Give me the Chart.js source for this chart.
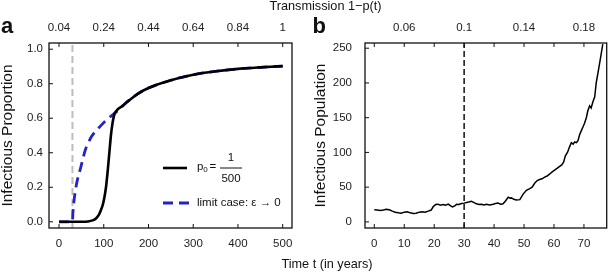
<!DOCTYPE html>
<html>
<head>
<meta charset="utf-8">
<script src="https://cdn.jsdelivr.net/npm/chart.js@4"></script>
<style>
  html, body { margin: 0; padding: 0; background: #fff; }
  #wrap { position: relative; width: 608px; height: 272px; overflow: hidden; font-family: 'Liberation Sans', Arial, sans-serif; color: #111; }
  canvas { position: absolute; top: 0; }
  .lbl { position: absolute; white-space: nowrap; line-height: 1; }
  .panel { font-weight: bold; font-size: 22px; }
  .axt { font-size: 12.7px; width: 200px; text-align: center; }
</style>
</head>
<body>
<div id="wrap">
  <canvas id="chart-a" width="304" height="272" style="left:0"></canvas>
  <canvas id="chart-b" width="304" height="272" style="left:304px"></canvas>
  <div class="lbl panel" style="left:1px; top:14.5px">a</div>
  <div class="lbl panel" style="left:312.5px; top:14.5px">b</div>
  <div class="lbl axt" style="left:225.5px; top:0px">Transmission 1−p(t)</div>
  <div class="lbl axt" style="left:227px; top:257.5px">Time t (in years)</div>
</div>
<script>
// panel a: infectious proportion vs time
const T_SOLID = [0, 50, 65, 75, 82, 89, 94, 98, 102, 105, 109, 112.5, 116, 119.5, 122, 125, 130, 140, 150, 160, 175, 200, 250, 300, 350, 400, 450, 500];
const P_SOLID = [0, 0, 0.002, 0.008, 0.018, 0.04, 0.07, 0.1, 0.15, 0.2, 0.3, 0.4, 0.5, 0.57, 0.605, 0.63, 0.648, 0.668, 0.69, 0.71, 0.74, 0.775, 0.82, 0.852, 0.872, 0.886, 0.895, 0.902];
const T_LIMIT = [0, 30, 31, 33, 36, 40, 47, 53, 58, 65, 73, 82, 92, 103, 114, 128, 140, 150, 160, 175, 200, 250, 300, 350, 400, 450, 500];
const P_LIMIT = [0, 0, 0.05, 0.11, 0.17, 0.23, 0.3, 0.36, 0.41, 0.455, 0.495, 0.525, 0.553, 0.582, 0.608, 0.637, 0.665, 0.69, 0.71, 0.74, 0.775, 0.82, 0.852, 0.872, 0.886, 0.895, 0.902];
const X_TICKS_A = [0, 100, 200, 300, 400, 500];
const TOP_LABELS_A = ['0.04', '0.24', '0.44', '0.64', '0.84', '1'];
const Y_TICKS_A = [0, 0.2, 0.4, 0.6, 0.8, 1.0];

// panel b: one stochastic run of the infectious population
const T_RUN = [0, 1, 2, 3, 4, 5, 6, 7, 8, 9, 10, 11, 12, 13, 14, 15, 16, 17, 18, 19, 19.7, 20.5, 21.3, 22, 23, 23.8, 24.7, 25.5, 26.1, 27, 27.5, 28.3, 29.1, 30, 30.8, 31.5, 32.4, 33.2, 34.1, 35, 35.8, 36.6, 37.4, 38.5, 39.7, 40.5, 41.3, 42.2, 43, 43.8, 44.7, 45.3, 45.8, 46.6, 47.4, 48.6, 49.7, 50.8, 51.9, 52.7, 53.6, 54.4, 55.2, 56, 56.9, 57.7, 58.6, 59.4, 60.2, 61, 61.9, 62.6, 63.2, 63.8, 64.5, 65.2, 65.8, 66.4, 66.9, 67.5, 68, 68.6, 69.1, 69.7, 70.2, 70.8, 71.3, 71.9, 72.4, 73, 73.6, 74.1, 74.7, 75.3, 75.8, 76.3];
const I_RUN = [17.5, 17, 16.5, 17, 18, 17.5, 15.5, 14, 13, 12.5, 14, 14.5, 13, 12, 12.5, 14, 14.5, 14, 15.5, 17, 22, 25, 25.5, 24, 25, 24, 25.5, 23, 21.5, 23.5, 25.5, 25, 26.5, 27, 28, 28.5, 29.5, 28, 26, 25, 25.5, 24.5, 25.5, 24.5, 25.5, 26.5, 27, 25.5, 26, 30, 35.5, 34, 34.5, 32.5, 31.5, 32, 40, 45.5, 48, 50, 56, 59.5, 61, 62, 64.5, 66, 69, 72, 74.5, 77, 80, 82, 86, 95, 100, 108, 114, 112, 115, 114, 117, 126, 131, 137, 142, 150, 160, 167, 164, 173, 180, 200, 215, 230, 243, 256];
const X_TICKS_B = [0, 10, 20, 30, 40, 50, 60, 70];
const TOP_LABELS_B = ['', '0.06', '', '0.1', '', '0.14', '', '0.18'];
const Y_TICKS_B = [0, 50, 100, 150, 200, 250];

const CUTOFF = 30;
const FONT = "'Liberation Sans', Arial, sans-serif";
const BLUE = '#2323c8';

function pts(xs, ys) { return xs.map((x, i) => ({ x, y: ys[i] })); }
function fixTicks(list) { return s => { s.ticks = list.map(v => ({ value: v })); }; }

// box, inward tick marks and the dashed cut-off line
const framePlugin = {
  id: 'frame',
  beforeDatasetsDraw(chart, args, o) {
    const { ctx, chartArea: a } = chart;
    const x = chart.scales.x.getPixelForValue(o.cut);
    ctx.save();
    ctx.strokeStyle = o.cutColor; ctx.lineWidth = o.cutWidth; ctx.setLineDash(o.cutDash);
    ctx.beginPath(); ctx.moveTo(x, a.bottom); ctx.lineTo(x, a.top); ctx.stroke();
    ctx.restore();
  },
  afterDatasetsDraw(chart) {
    const { ctx, chartArea: a } = chart;
    ctx.save();
    ctx.strokeStyle = '#111'; ctx.lineWidth = 1;
    Object.values(chart.scales).forEach(s => {
      s.ticks.forEach(t => {
        const p = s.getPixelForValue(t.value);
        ctx.beginPath();
        if (s.position === 'bottom') { ctx.moveTo(p, a.bottom); ctx.lineTo(p, a.bottom - 4); }
        else if (s.position === 'top') { ctx.moveTo(p, a.top); ctx.lineTo(p, a.top + 4); }
        else { ctx.moveTo(a.left, p); ctx.lineTo(a.left + 4, p); }
        ctx.stroke();
      });
    });
    ctx.lineWidth = 1.3;
    ctx.strokeRect(a.left, a.top, a.right - a.left, a.bottom - a.top);
    ctx.restore();
  },
};

// legend of panel a (p0 = 1/500, limit case)
const legendPlugin = {
  id: 'legendA',
  afterDraw(chart) {
    const { ctx, chartArea: a } = chart;
    const x0 = a.left + 114, y1 = a.top + 125, y2 = a.top + 160;
    ctx.save();
    ctx.lineWidth = 2.6; ctx.strokeStyle = '#000';
    ctx.beginPath(); ctx.moveTo(x0, y1); ctx.lineTo(x0 + 24, y1); ctx.stroke();
    ctx.strokeStyle = BLUE; ctx.lineWidth = 2.8; ctx.setLineDash([10, 6]);
    ctx.beginPath(); ctx.moveTo(x0, y2); ctx.lineTo(x0 + 26, y2); ctx.stroke();
    ctx.setLineDash([]);
    ctx.fillStyle = '#111'; ctx.textBaseline = 'middle';
    ctx.font = `11.5px ${FONT}`;
    const tx = x0 + 34;
    ctx.fillText('p', tx, y1 - 1);
    ctx.font = `8px ${FONT}`;
    ctx.fillText('0', tx + 6.3, y1 + 2);
    ctx.font = `11.5px ${FONT}`;
    ctx.fillText('=', tx + 12.5, y1 - 1);
    ctx.textAlign = 'center';
    ctx.fillText('1', tx + 34, y1 - 10);
    ctx.fillText('500', tx + 34, y1 + 11);
    ctx.lineWidth = 1; ctx.strokeStyle = '#111';
    ctx.beginPath(); ctx.moveTo(tx + 23, y1); ctx.lineTo(tx + 45, y1); ctx.stroke();
    ctx.textAlign = 'left';
    ctx.fillText('limit case: ε → 0', tx, y2);
    ctx.restore();
  },
};

function axisX(min, max, ticks, position, labels, size) {
  return {
    type: 'linear', position, min, max,
    afterBuildTicks: fixTicks(ticks),
    afterFit: s => { s.height = size; },
    grid: { display: false, drawTicks: false, tickLength: 0 },
    border: { display: false },
    ticks: {
      autoSkip: false, maxRotation: 0, padding: 8.5, color: '#222',
      font: { family: FONT, size: 11.5, lineHeight: 1.2 },
      callback: labels ? (v, i) => labels[i] : v => v,
    },
  };
}

function axisY(min, max, ticks, title, width, pad, titlePad, fmt) {
  return {
    type: 'linear', min, max,
    afterBuildTicks: fixTicks(ticks),
    afterFit: s => { s.width = width; },
    grid: { display: false, drawTicks: false, tickLength: 0 },
    border: { display: false },
    ticks: { padding: pad, color: '#222', font: { family: FONT, size: 11.5 }, callback: fmt },
    title: { display: true, text: title, color: '#111', padding: { top: titlePad, bottom: 0 },
             font: { family: FONT, size: 15.5, lineHeight: 1.05 } },
  };
}

const common = {
  responsive: false, animation: false, devicePixelRatio: 1,
  plugins: { legend: { display: false }, tooltip: { enabled: false } },
  elements: { point: { radius: 0 } },
};

new Chart(document.getElementById('chart-a'), {
  type: 'line',
  data: {
    datasets: [
      { data: pts(T_SOLID, P_SOLID), borderColor: '#000', borderWidth: 2.6, cubicInterpolationMode: 'monotone' },
      { data: pts(T_LIMIT, P_LIMIT), borderColor: BLUE, borderWidth: 2.8, borderDash: [10, 6], cubicInterpolationMode: 'monotone' },
    ],
  },
  options: {
    ...common,
    layout: { padding: { left: 0, right: 12, top: 0, bottom: 0 } },
    plugins: { ...common.plugins, frame: { cut: CUTOFF, cutColor: '#bdbdbd', cutWidth: 2, cutDash: [7, 4] } },
    scales: {
      x: axisX(-22.4, 520.8, X_TICKS_A, 'bottom', null, 44),
      xTop: axisX(-22.4, 520.8, X_TICKS_A, 'top', TOP_LABELS_A, 43),
      y: axisY(-0.036, 1.036, Y_TICKS_A, 'Infectious Proportion', 49, 6, 0, v => v.toFixed(1)),
    },
  },
  plugins: [framePlugin, legendPlugin],
});

new Chart(document.getElementById('chart-b'), {
  type: 'line',
  data: {
    datasets: [
      { data: pts(T_RUN, I_RUN), borderColor: '#000', borderWidth: 1.5, tension: 0 },
    ],
  },
  options: {
    ...common,
    layout: { padding: { left: 0, right: 1.3, top: 0, bottom: 0 } },
    plugins: { ...common.plugins, frame: { cut: CUTOFF, cutColor: '#111', cutWidth: 1.5, cutDash: [6, 3] } },
    scales: {
      x: axisX(-3.1, 77.6, X_TICKS_B, 'bottom', null, 44),
      xTop: axisX(-3.1, 77.6, X_TICKS_B, 'top', TOP_LABELS_B, 43),
      y: axisY(-8.8, 257.5, Y_TICKS_B, 'Infectious Population', 61, 13, 9, v => v),
    },
  },
  plugins: [framePlugin],
});
</script>
</body>
</html>
